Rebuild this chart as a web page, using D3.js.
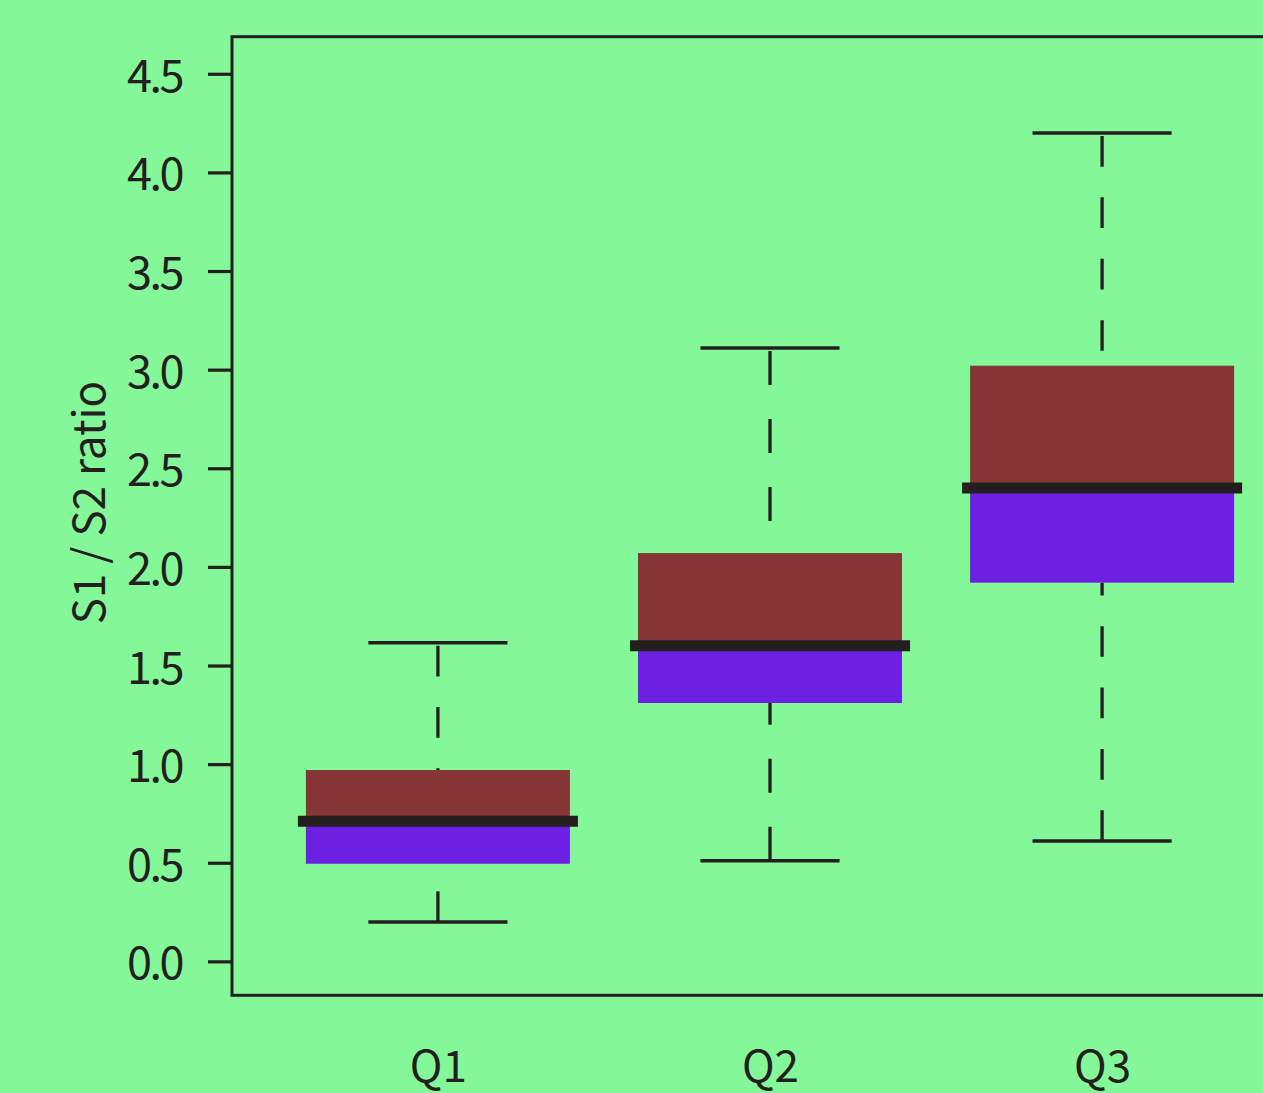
<!DOCTYPE html>
<html>
<head>
<meta charset="utf-8">
<script src="https://cdn.jsdelivr.net/npm/d3@7"></script>
<style>
  html, body { margin: 0; padding: 0; background: #84f898; }
  svg { display: block; }
  text { font-family: "Noto Sans CJK SC", "Open Sans", sans-serif; fill: #231f20; }
</style>
</head>
<body>
<svg id="chart" width="1263" height="1093"></svg>
<script>
// ---- data ----
const categories  = ["Q1", "Q2", "Q3"];
const whiskerLow  = [0.20, 0.51, 0.61];
const boxLow      = [0.495, 1.31, 1.92];
const medians     = [0.71, 1.60, 2.40];
const boxHigh     = [0.97, 2.07, 3.02];
const whiskerHigh = [1.615, 3.11, 4.20];
const yTickValues = [0, 0.5, 1.0, 1.5, 2.0, 2.5, 3.0, 3.5, 4.0, 4.5];
const yTickLabels = ["0.0", "0.5", "1.0", "1.5", "2.0", "2.5", "3.0", "3.5", "4.0", "4.5"];
const yLabel = "S1 / S2 ratio";

// ---- styles ----
const bg = "#84f898";
const ink = "#231f20";
const upperColor = "#853535";
const lowerColor = "#6c21e2";
const dashLen = [30.6, 34, 30.7];

const svg = d3.select("#chart");
svg.append("rect").attr("width", 1263).attr("height", 1093).attr("fill", bg);

const plot = { left: 232, right: 1308, top: 36.7, bottom: 995.3 };

const x = d3.scalePoint().domain(categories).range([plot.left, plot.right]).padding(0.62);
const y = d3.scaleLinear().domain([-0.172, 4.688]).range([plot.bottom, plot.top]);

const step = x.step();
const boxW = step * 0.795;
const capW = boxW * 0.527;
const medExt = 8;

const rows = categories.map((c, i) => ({
  c, i, lo: whiskerLow[i], q1: boxLow[i], med: medians[i], q3: boxHigh[i], hi: whiskerHigh[i]
}));

const g = svg.append("g");

// whiskers (drawn from the cap toward the box)
g.selectAll("line.wl").data(rows).join("line")
  .attr("x1", d => x(d.c)).attr("x2", d => x(d.c))
  .attr("y1", d => y(d.lo)).attr("y2", d => y(d.q1))
  .attr("stroke", ink).attr("stroke-width", 3.3)
  .attr("stroke-dasharray", d => `${dashLen[d.i]},${dashLen[d.i]}`)
  .attr("stroke-dashoffset", 0);
g.selectAll("line.wh").data(rows).join("line")
  .attr("x1", d => x(d.c)).attr("x2", d => x(d.c))
  .attr("y1", d => y(d.hi)).attr("y2", d => y(d.q3))
  .attr("stroke", ink).attr("stroke-width", 3.3)
  .attr("stroke-dasharray", d => `${dashLen[d.i]},${dashLen[d.i]}`)
  .attr("stroke-dashoffset", -3);

// caps
g.selectAll("line.capl").data(rows).join("line")
  .attr("x1", d => x(d.c) - capW / 2).attr("x2", d => x(d.c) + capW / 2)
  .attr("y1", d => y(d.lo)).attr("y2", d => y(d.lo))
  .attr("stroke", ink).attr("stroke-width", 3.5);
g.selectAll("line.caph").data(rows).join("line")
  .attr("x1", d => x(d.c) - capW / 2).attr("x2", d => x(d.c) + capW / 2)
  .attr("y1", d => y(d.hi)).attr("y2", d => y(d.hi))
  .attr("stroke", ink).attr("stroke-width", 3.5);

// box halves
g.selectAll("rect.lower").data(rows).join("rect")
  .attr("x", d => x(d.c) - boxW / 2).attr("width", boxW)
  .attr("y", d => y(d.med)).attr("height", d => y(d.q1) - y(d.med))
  .attr("fill", lowerColor);
g.selectAll("rect.upper").data(rows).join("rect")
  .attr("x", d => x(d.c) - boxW / 2).attr("width", boxW)
  .attr("y", d => y(d.q3)).attr("height", d => y(d.med) - y(d.q3))
  .attr("fill", upperColor);

// medians
g.selectAll("line.med").data(rows).join("line")
  .attr("x1", d => x(d.c) - boxW / 2 - medExt).attr("x2", d => x(d.c) + boxW / 2 + medExt)
  .attr("y1", d => y(d.med)).attr("y2", d => y(d.med))
  .attr("stroke", ink).attr("stroke-width", 11);

// frame
svg.append("rect")
  .attr("x", plot.left).attr("y", plot.top)
  .attr("width", plot.right - plot.left).attr("height", plot.bottom - plot.top)
  .attr("fill", "none").attr("stroke", ink).attr("stroke-width", 3);

// y axis
const yAxis = d3.axisLeft(y).tickValues(yTickValues).tickSize(24).tickPadding(26)
  .tickFormat((d, i) => yTickLabels[i]);
const ya = svg.append("g").attr("transform", `translate(${plot.left},0)`).call(yAxis);
ya.select(".domain").remove();
ya.selectAll(".tick line").attr("stroke", ink).attr("stroke-width", 3.2);
ya.selectAll(".tick text").attr("dy", 17.5).attr("font-size", 45)
  .attr("letter-spacing", "-2.5px")
  .attr("font-family", "Noto Sans CJK SC, Open Sans, sans-serif").attr("fill", ink);

// x labels
const xAxis = d3.axisBottom(x).tickSize(0).tickPadding(0);
const xa = svg.append("g").attr("transform", `translate(0,1082)`).call(xAxis);
xa.select(".domain").remove();
xa.selectAll(".tick text").attr("y", 0).attr("dy", 0).attr("font-size", 44)
  .attr("font-family", "Noto Sans CJK SC, Open Sans, sans-serif").attr("fill", ink);

// y label
svg.append("text")
  .attr("transform", "translate(105,502.5) rotate(-90)")
  .attr("text-anchor", "middle")
  .attr("font-size", 44)
  .text(yLabel);
</script>
</body>
</html>
